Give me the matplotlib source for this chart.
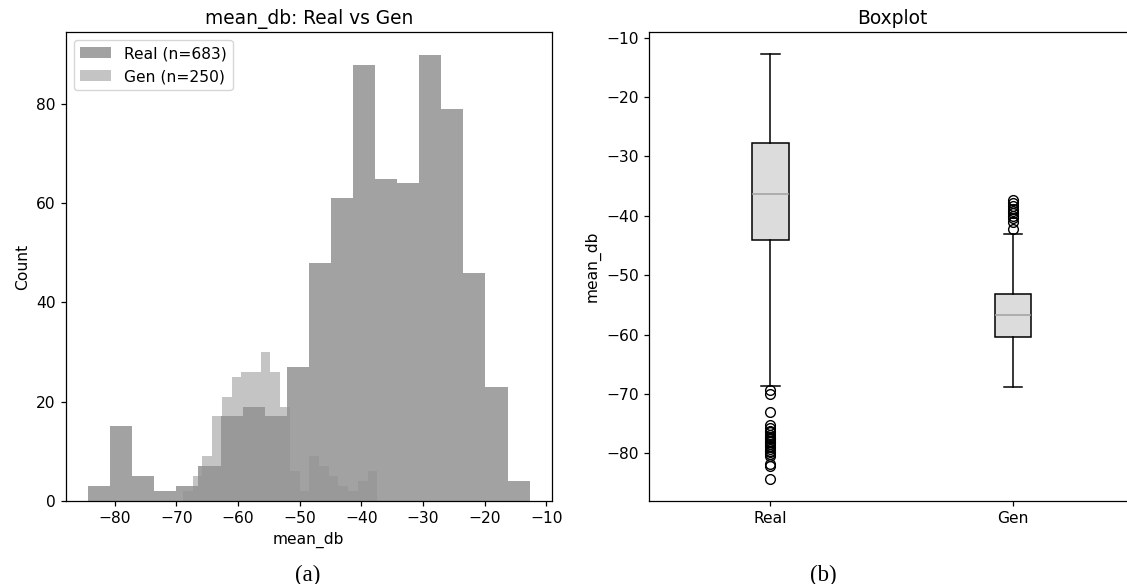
import numpy as np
import matplotlib
matplotlib.use('Agg')
import matplotlib.pyplot as plt

# ---- histogram counts (20 bins each) ----
real_counts = [3, 15, 5, 2, 3, 7, 17, 19, 17, 27, 48, 61, 88, 65, 64, 90, 79, 46, 23, 4]
gen_counts = [2, 5, 9, 17, 21, 25, 26, 26, 30, 26, 19, 6, 2, 9, 7, 5, 3, 2, 4, 6]
real_range = (-84.3, -12.7)
gen_range = (-68.9, -37.4)

# ---- boxplot summary ----
real_box = dict(med=-36.3, q1=-44.1, q3=-27.8, whislo=-68.6, whishi=-12.7)
gen_box = dict(med=-56.8, q1=-60.5, q3=-53.1, whislo=-68.9, whishi=-43.0)
real_fliers = [-84.4, -82.1, -81.8, -80.4, -80.1, -79.8, -79.6, -79.3, -79.0, -78.7,
               -78.4, -78.1, -77.9, -77.6, -77.4, -77.2, -76.9, -76.5, -76.2, -75.8,
               -75.3, -73.1, -70.0, -69.3]
gen_fliers = [-37.4, -37.8, -38.3, -38.8, -39.2, -39.6, -40.0, -40.4, -41.0, -42.2]
box_labels = ['Real', 'Gen']

# the source figure was rendered a little larger than default, so scale fonts/lines
plt.rcParams['font.size'] = 11.2
plt.rcParams['axes.linewidth'] = 0.9
plt.rcParams['xtick.major.width'] = 0.9
plt.rcParams['ytick.major.width'] = 0.9
plt.rcParams['xtick.major.size'] = 3.9
plt.rcParams['ytick.major.size'] = 3.9

W, H = 1127, 584
fig = plt.figure(figsize=(W / 100, H / 100), dpi=100)
ax1 = fig.add_axes([66 / W, (H - 500.7) / H, 485.7 / W, 468.4 / H])
ax2 = fig.add_axes([649 / W, (H - 500.7) / H, 485.7 / W, 468.4 / H])

# ==========================================
# (a) overlaid histograms
# ==========================================
real_edges = np.linspace(real_range[0], real_range[1], len(real_counts) + 1)
gen_edges = np.linspace(gen_range[0], gen_range[1], len(gen_counts) + 1)
ax1.hist(real_edges[:-1], bins=real_edges, weights=real_counts,
         color='#808080', alpha=0.73, label=f'Real (n={sum(real_counts)})')
ax1.hist(gen_edges[:-1], bins=gen_edges, weights=gen_counts,
         color='#929292', alpha=0.54, label=f'Gen (n={sum(gen_counts)})')
ax1.set_title('mean_db: Real vs Gen', fontsize=13.4)
ax1.set_xlabel('mean_db')
ax1.set_ylabel('Count')
ax1.legend(loc='upper left')

# ==========================================
# (b) boxplot
# ==========================================
stats = []
for lab, b, fl in zip(box_labels, [real_box, gen_box], [real_fliers, gen_fliers]):
    d = dict(b)
    d['label'] = lab
    d['fliers'] = fl
    stats.append(d)
ax2.bxp(stats, widths=0.15, patch_artist=True,
        boxprops=dict(facecolor='#dcdcdc', edgecolor='black', linewidth=1.1),
        medianprops=dict(color='#a0a0a0', linewidth=1.1),
        whiskerprops=dict(color='black', linewidth=1.1),
        capprops=dict(color='black', linewidth=1.1),
        flierprops=dict(marker='o', markerfacecolor='none', markeredgecolor='black', markersize=7))
ax2.set_title('Boxplot', fontsize=13.4)
ax2.set_ylabel('mean_db')

# captions under the panels
fig.text(308 / W, 1 - 575 / H, '(a)', ha='center', va='center',
         family='Liberation Serif', fontsize=16.5)
fig.text(823 / W, 1 - 575 / H, '(b)', ha='center', va='center',
         family='Liberation Serif', fontsize=16.5)

fig.savefig('out.png', dpi=100)
